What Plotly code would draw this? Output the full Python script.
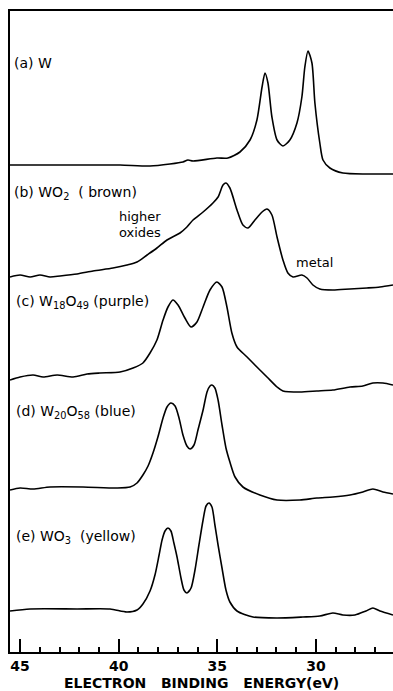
import plotly.graph_objects as go

# Energies (eV) and stacked intensities (arb. units)
E_a = [45.51, 43.99, 41.96, 39.93, 38.41, 37.40, 36.74, 36.49, 36.23, 35.02, 34.46, 33.85, 33.34, 32.99,
       32.73, 32.58, 32.43, 32.23, 31.97, 31.67, 31.32, 30.96, 30.71, 30.56, 30.40, 30.20, 30.05, 29.80,
       29.64, 29.29, 28.63, 27.41, 26.09]
I_a = [487, 487, 487, 487, 486, 488, 490, 492, 491, 494, 494, 500, 512, 532,
       565, 579, 569, 535, 512, 506, 512, 529, 555, 585, 601, 589, 549, 509,
       492, 484, 479, 478, 478]

E_b = [45.51, 45.00, 44.49, 43.99, 43.48, 42.97, 42.11, 41.30, 40.29, 39.58, 39.07, 38.56, 38.06, 37.55,
       36.89, 36.54, 36.23, 35.72, 35.22, 34.96, 34.71, 34.56, 34.36, 34.00, 33.70, 33.44, 33.09, 32.73,
       32.48, 32.23, 31.97, 31.67, 31.42, 31.16, 30.71, 30.45, 30.15, 29.80, 29.14, 28.27, 27.41, 26.75, 26.09]
I_b = [375, 377, 375, 377, 375, 376, 378, 381, 384, 387, 390, 397, 404, 412,
       419, 425, 432, 440, 449, 455, 467, 469, 464, 442, 427, 424, 432, 440,
       443, 437, 415, 392, 379, 375, 377, 374, 367, 363, 362, 363, 364, 365, 367]

E_c = [45.51, 45.00, 44.34, 43.83, 43.12, 42.31, 41.60, 40.95, 39.93, 39.27, 38.77, 38.41, 38.06, 37.75,
       37.50, 37.25, 36.99, 36.64, 36.33, 36.03, 35.72, 35.37, 35.02, 34.76, 34.51, 34.26, 34.00, 33.49,
       32.99, 32.48, 31.97, 31.67, 30.81, 29.95, 29.14, 28.27, 27.62, 27.11, 26.60, 26.09]
I_c = [272, 275, 277, 275, 277, 275, 278, 279, 280, 284, 289, 299, 312, 332,
       345, 352, 347, 334, 325, 330, 345, 362, 370, 365, 345, 319, 305, 295,
       285, 275, 265, 261, 260, 261, 262, 265, 266, 269, 269, 267]

E_d = [45.51, 45.00, 44.34, 43.48, 41.81, 40.08, 39.42, 39.07, 38.77, 38.51, 38.26, 38.01, 37.75, 37.55,
       37.35, 37.14, 36.94, 36.74, 36.54, 36.38, 36.18, 35.98, 35.72, 35.52, 35.37, 35.27, 35.12, 34.96,
       34.76, 34.56, 34.36, 34.10, 33.70, 32.84, 31.97, 30.81, 29.95, 29.14, 28.27, 27.62, 27.11, 26.60, 26.09]
I_d = [162, 164, 163, 165, 165, 164, 165, 169, 177, 186, 199, 215, 234, 245,
       249, 246, 234, 217, 206, 203, 207, 222, 242, 260, 266, 267, 264, 252,
       227, 204, 190, 175, 165, 157, 152, 152, 154, 155, 157, 160, 163, 160, 158]

E_e = [45.51, 44.49, 42.11, 40.44, 39.58, 39.07, 38.77, 38.41, 38.16, 37.95, 37.80, 37.65, 37.50, 37.35,
       37.20, 37.04, 36.84, 36.69, 36.54, 36.33, 36.13, 35.93, 35.72, 35.57, 35.42, 35.27, 35.12, 34.96,
       34.76, 34.56, 34.36, 34.00, 33.19, 31.97, 30.66, 29.80, 29.14, 28.63, 28.02, 27.46, 27.11, 26.75, 26.09]
I_e = [41, 43, 43, 43, 40, 42, 48, 61, 77, 97, 112, 121, 124, 121,
       109, 95, 74, 62, 59, 64, 82, 107, 132, 146, 149, 145, 127, 107,
       84, 62, 50, 41, 35, 34, 35, 36, 39, 37, 37, 41, 44, 41, 37]

tick_vals = [45, 40, 35, 30]
tick_text = ["45", "40", "35", "30"]

FONT = "DejaVu Sans"
NB = "\u00a0"

fig = go.Figure()
for E, I in [(E_a, I_a), (E_b, I_b), (E_c, I_c), (E_d, I_d), (E_e, I_e)]:
    fig.add_trace(go.Scatter(x=E, y=I, mode="lines",
                             line=dict(color="black", width=1.6, shape="spline", smoothing=0.7),
                             showlegend=False, hoverinfo="skip"))

labels = [
    ("(a)" + NB + "W", 45.41, 589, "left", 14),
    ("(b)" + NB + "WO<sub>2</sub>" + NB * 2 + "(" + NB + "brown)", 45.41, 459, "left", 14),
    ("higher", 38.9, 436, "center", 13),
    ("oxides", 38.9, 420, "center", 13),
    ("metal", 30.05, 390, "center", 13),
    ("(c)" + NB + "W<sub>18</sub>O<sub>49</sub>" + NB + "(purple)", 45.31, 350, "left", 14),
    ("(d)" + NB + "W<sub>20</sub>O<sub>58</sub>" + NB + "(blue)", 45.31, 240, "left", 14),
    ("(e)" + NB + "WO<sub>3</sub>" + NB * 2 + "(yellow)", 45.31, 115, "left", 14),
]
for txt, x, y, anc, sz in labels:
    fig.add_annotation(x=x, y=y, xref="x", yref="y", text=txt, showarrow=False,
                       xanchor=anc, yanchor="middle",
                       font=dict(family=FONT, size=sz, color="black"))

fig.add_annotation(x=0.501, y=-0.0485, xref="paper", yref="paper",
                   text="ELECTRON" + NB * 3 + "BINDING" + NB * 3 + "ENERGY(eV)",
                   showarrow=False, xanchor="center", yanchor="middle",
                   font=dict(family=FONT, size=14, color="black", weight="bold"))

fig.update_layout(
    width=393, height=691,
    margin=dict(l=10, r=0, t=11, b=39),
    paper_bgcolor="white", plot_bgcolor="white",
    xaxis=dict(range=[45.51, 26.09], showgrid=False, zeroline=False,
               showline=True, linecolor="black", linewidth=2, mirror=True,
               ticks="inside", ticklen=13, tickwidth=2, tickcolor="black",
               tickvals=tick_vals, ticktext=tick_text,
               minor=dict(ticks="inside", ticklen=5, tickwidth=2, tickcolor="black", dtick=1),
               tickfont=dict(family=FONT, size=14, color="black", weight="bold")),
    yaxis=dict(range=[0, 641], showgrid=False, zeroline=False, showticklabels=False,
               showline=True, linecolor="black", linewidth=2, ticks=""),
)

fig.write_html("out.html")
